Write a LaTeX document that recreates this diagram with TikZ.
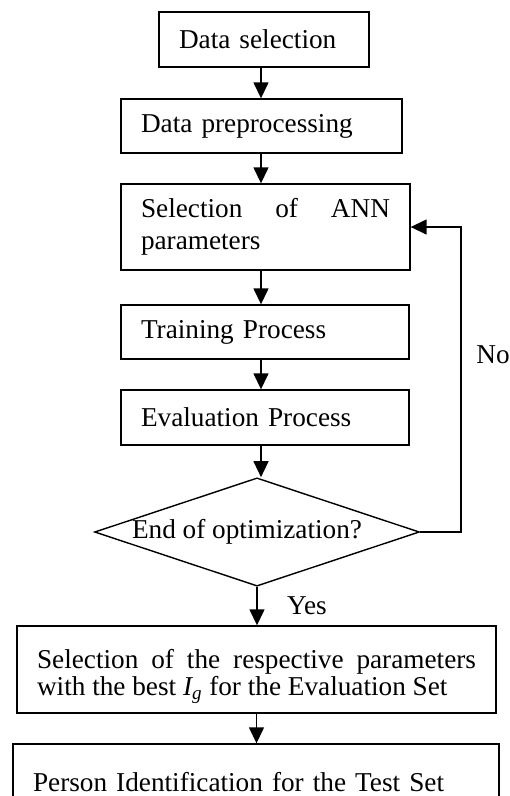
\documentclass[tikz,border=0pt]{standalone}
\usepackage{fontspec}
\setmainfont{Liberation Serif}
\usetikzlibrary{arrows.meta, shapes.geometric}
\hyphenpenalty=10000

\begin{document}
\begin{tikzpicture}[x=.02cm, y=-.02cm, line width=.8pt,
    box/.style={draw, rectangle, inner xsep=.4cm, inner ysep=0pt, align=left, font=\fontsize{15.5}{18}\selectfont},
    arr/.style={-{Triangle[length=.32cm, width=.3cm]}},
    lbl/.style={font=\fontsize{15.5}{18}\selectfont}]

\useasboundingbox (0,0) rectangle (510,796);
\coordinate (col) at (261,0);

\node[box, text width=3.4cm, minimum height=1.1cm] (dsel) at (264,39.5) {Data selection};
\node[box, text width=4.82cm, minimum height=1.08cm] (dpre) at (261.5,126) {Data preprocessing};
\node[box, text width=4.98cm, minimum height=1.72cm, align=justify] (ann) at (265.5,227) {Selection of ANN\linebreak parameters};
\node[box, text width=4.96cm, minimum height=1.08cm] (train) at (265,332) {Training Process};
\node[box, text width=4.96cm, minimum height=1.1cm] (eval) at (265,417.5) {Evaluation Process};

\node[draw, diamond, aspect=3, inner sep=0pt, minimum width=6.4cm, minimum height=2.16cm, lbl] (dec) at (257,532) {\raisebox{-.1cm}{End of optimization?}\hspace*{.4cm}};

\node[box, text width=8.78cm, minimum height=1.74cm, align=justify, font=\fontsize{15.5}{15.6}\selectfont] (best) at (256.5,669.5) {\rule{0pt}{.66cm}Selection of the respective parameters with the best {\itshape I}\textsubscript{\itshape g} for the Evaluation Set};
\node[box, text width=8.92cm, minimum height=1.52cm] (test) at (256,782) {Person Identification for the Test Set};

\draw[arr] (dsel.south -| col) -- (dpre.north -| col);
\draw[arr] (dpre.south -| col) -- (ann.north -| col);
\draw[arr] (ann.south -| col) -- (train.north -| col);
\draw[arr] (train.south -| col) -- (eval.north -| col);
\draw[arr] (eval.south -| col) -- (dec.north -| col);
\draw[arr] (dec.south) -- (best.north -| dec.south);
\draw[arr] (best.south) -- (test.north -| best.south);

% loop back
\draw[arr] (dec.east) -- ++(41,0) |- (ann.east);

\node[lbl] (no) at (493,355) {No};
\node[lbl] (yes) at (307,606) {Yes};

\end{tikzpicture}
\end{document}
